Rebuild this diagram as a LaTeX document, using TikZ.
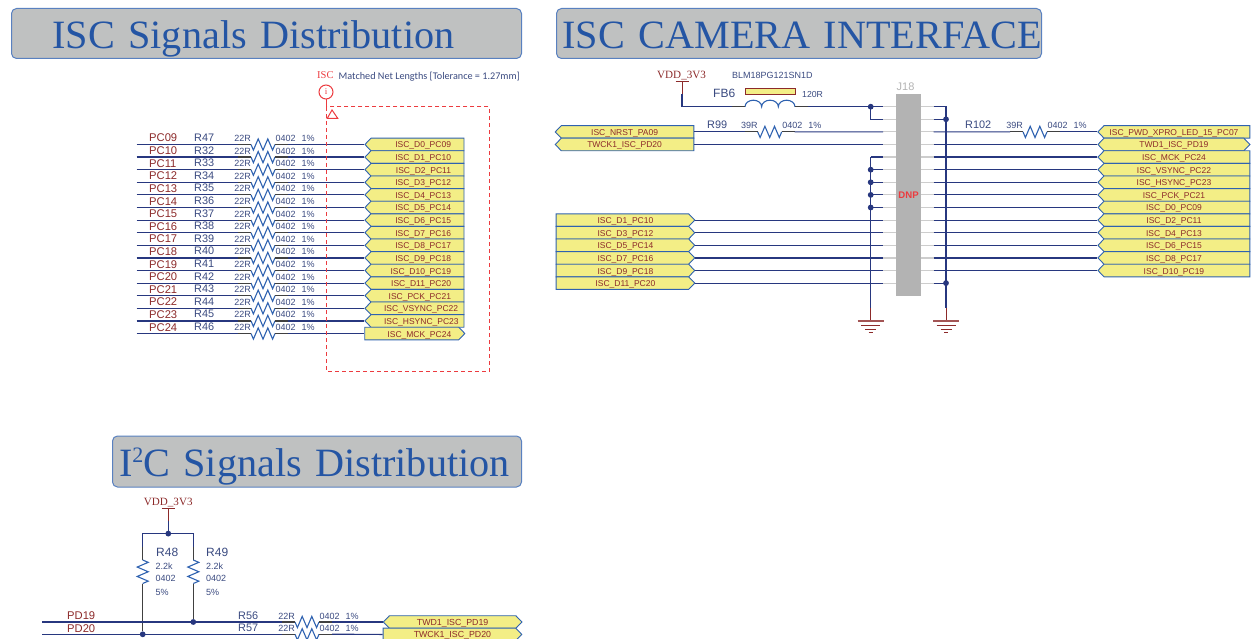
\documentclass[tikz,border=0pt]{standalone}
\usepackage{fontspec}
\setmainfont{Liberation Sans}
\newfontfamily\serifface{Liberation Serif}
\newfontfamily\noteface{Carlito}
\usetikzlibrary{positioning}
\usetikzlibrary{shapes.symbols}

\definecolor{wireblue}{HTML}{27377F}
\definecolor{tagblue}{HTML}{2F62B0}
\definecolor{tagyellow}{HTML}{F3EE86}
\definecolor{netred}{HTML}{8C2A2A}
\definecolor{textblue}{HTML}{3A4A80}
\definecolor{alertred}{HTML}{EC3B3F}
\definecolor{titleblue}{HTML}{2455A4}
\definecolor{titlegray}{HTML}{BFC1C1}
\definecolor{pingray}{HTML}{CDCDCD}
\definecolor{bodygray}{HTML}{B3B3B3}

\tikzset{
  wire/.style={draw=wireblue, line width=1.2pt},
  stub/.style={draw=black!75, line width=1.2pt},
  pwr/.style={draw=netred, line width=1pt},
  zig/.style={draw=tagblue, line width=1.1pt, line join=miter},
  lab/.style={inner sep=0pt, anchor=base west, text=textblue, font=\fontsize{9}{9}\selectfont},
  labend/.style={lab, anchor=base east},
  refdes/.style={lab, font=\fontsize{12}{12}\selectfont},
  pinname/.style={lab, text=netred, font=\fontsize{11.2}{11}\selectfont},
  powername/.style={lab, text=netred, font=\fontsize{11.1}{10}\serifface},
  dot/.style={circle, fill=wireblue, inner sep=0pt, minimum size=5.8pt},
  tagbase/.style={signal, draw=tagblue, fill=tagyellow, line width=0.9pt,
    signal pointer angle=92, inner ysep=0pt, text=netred, text height=7.5pt, text depth=0.5pt,
    font=\fontsize{8.5}{8.5}\selectfont, minimum height=12.6pt},
  tagin/.style={tagbase, signal to=west, inner xsep=13pt, text width=67pt, align=right},
  tagout/.style={tagbase, signal to=east, inner xsep=7.5pt, text width=79pt, align=right},
  tagwest/.style={tagbase, signal to=west, minimum width=#1, execute at begin node=\hspace*{-6pt}},
  tageast/.style={tagbase, signal to=east, minimum width=#1, execute at begin node=\hspace*{6pt}},
  tagboth/.style={tagbase, signal to=west and east, minimum width=#1},
  titlebox/.style={rounded corners=5pt, draw=tagblue!80!white, fill=titlegray, line width=1pt,
    anchor=north west, align=left, minimum height=50pt, inner ysep=0pt, text=titleblue,
    text height=29.5pt, text depth=0pt, font=\fontsize{40.2}{41}\serifface},
  gndsym/.pic={
    \draw[pwr] (0,0) -- (0,13);
    \draw[pwr, line width=1.5pt, draw=netred!80] (-13,13) -- (13,13);
    \draw[pwr] (-9.5,17) -- (9.5,17);
    \draw[pwr] (-5.5,21) -- (5.5,21);
    \draw[pwr] (-2,24.5) -- (2,24.5);
  },
  vddsym/.pic={
    \draw[pwr] (-6.5,0) -- (6.5,0);
    \draw[pwr] (0,0) -- (0,12);
  },
}

% resistor lying on a wire: id, left x, y, x of name, name, value
\newcommand{\hres}[6]{
  \coordinate (ra#1) at (#2,#3);
  \coordinate[right=24pt of ra#1] (rb#1);
  \coordinate[left=13pt of ra#1] (sa#1);
  \coordinate[right=13pt of rb#1] (sb#1);
  \draw[zig] (ra#1) -- ++(2.4,5.6) -- ++(4.8,-11.2) -- ++(4.8,11.2) -- ++(4.8,-11.2) -- ++(4.8,11.2) -- (rb#1);
  \draw[stub] (sa#1) -- (ra#1);
  \draw[stub] (rb#1) -- (sb#1);
  \node[lab, font=\fontsize{10.9}{11}\selectfont] (rname#1) at (#4,#3-3) {#5};
  \node[labend] (rval#1) at (#2,#3-3) {#6};
  \node[lab] (rcase#1) at (#2+24.5,#3-3) {0402};
  \node[lab] (rtol#1) at (#2+50.5,#3-3) {1\%};
}

\begin{document}
\begin{tikzpicture}[x=1pt,y=-1pt]

  \useasboundingbox (0,0) rectangle (1252,639);

  % titles
  \node[titlebox, inner xsep=41pt, text width=428pt] (titleisc) at (11,8) {\mbox{ISC Signals Distribution}};
  \node[titlebox, inner xsep=6pt, text width=473pt] (titlecam) at (556,8) {\mbox{ISC CAMERA INTERFACE}};
  \node[titlebox, inner xsep=6.5pt, text width=396pt, minimum height=51pt] (titleitc) at (112,435.5)
    {\mbox{I\raisebox{14pt}{\fontsize{22}{22}\selectfont 2}C Signals Distribution}};

  % ISC signals
  \foreach \pin/\res/\net/\kind [count=\i from 0] in {
    PC09/R47/ISC\_D0\_PC09/tagin, PC10/R32/ISC\_D1\_PC10/tagin,
    PC11/R33/ISC\_D2\_PC11/tagin, PC12/R34/ISC\_D3\_PC12/tagin,
    PC13/R35/ISC\_D4\_PC13/tagin, PC14/R36/ISC\_D5\_PC14/tagin,
    PC15/R37/ISC\_D6\_PC15/tagin, PC16/R38/ISC\_D7\_PC16/tagin,
    PC17/R39/ISC\_D8\_PC17/tagin, PC18/R40/ISC\_D9\_PC18/tagin,
    PC19/R41/ISC\_D10\_PC19/tagin, PC20/R42/ISC\_D11\_PC20/tagin,
    PC21/R43/ISC\_PCK\_PC21/tagin, PC22/R44/ISC\_VSYNC\_PC22/tagin,
    PC23/R45/ISC\_HSYNC\_PC23/tagin, PC24/R46/ISC\_MCK\_PC24/tagout} {
    \pgfmathsetmacro{\y}{144.5+12.6*\i}
    \coordinate (isc\i) at (136.5,\y);
    \node[\kind, anchor=west] (tag\i) at (364.3,\y) {\net};
    \hres{s\i}{251}{\y}{194}{\res}{22R}
    \node[pinname] (pin\i) at (149,\y-2.5) {\pin};
    \draw[wire] (isc\i) -- (sas\i);
    \draw[wire] (sbs\i) -- (tag\i.west);
  }

  % matched length note
  \node[powername, text=alertred, font=\fontsize{10.5}{10}\serifface] (netisc) at (317,79) {ISC};
  \node[lab, font=\fontsize{10.2}{9}\noteface] (note) at (338.5,80) {Matched Net Lengths [Tolerance = 1.27mm]};
  \node[circle, draw=alertred, line width=1pt, inner sep=0pt, minimum size=14pt, text=alertred,
    font=\fontsize{9}{9}\serifface] (info) at (326,92) {i};
  \coordinate (boxa) at (326,107);
  \coordinate (boxb) at (489.7,371);
  \draw[alertred, line width=1pt] (info) -- (boxa);
  \draw[alertred, line width=1pt, dash pattern=on 4pt off 3pt] (boxa) rectangle (boxb);
  \draw[alertred, line width=1pt] (332,110) -- (337.7,118.3) -- (327.3,118.3) -- cycle;

  % J18
  \node[fill=bodygray, inner sep=0pt, minimum width=25.3pt, minimum height=202pt, anchor=north west,
    text=alertred, font=\bfseries\fontsize{9.6}{10}\selectfont] (conn) at (895.7,94) {DNP};
  \node[lab, text=bodygray, font=\fontsize{11}{11}\selectfont, anchor=base] (connref) at (905.5,91) {J18};
  \foreach \i in {0,...,14} {
    \pgfmathsetmacro{\y}{106.7+12.6*\i}
    \coordinate (pl\i) at (883,\y);
    \coordinate (cl\i) at (895.7,\y);
    \coordinate (pr\i) at (933.5,\y);
    \coordinate (cr\i) at (921,\y);
    \coordinate (vl\i) at (870.7,\y);
    \coordinate (vr\i) at (946,\y);
    \draw[pingray, line width=1.2pt] (pl\i) -- (cl\i);
    \draw[pingray, line width=1.2pt] (cr\i) -- (pr\i);
  }

  % supply and ferrite bead
  \pic at (682,81.7) {vddsym};
  \coordinate (vddtop) at (682,93.7);
  \node[powername] (vddcam) at (657,78.5) {VDD\_3V3};
  \coordinate (fba) at (745,106.7);
  \coordinate (fbb) at (795,106.7);
  \coordinate[left=13pt of fba] (fbsa);
  \coordinate[right=13pt of fbb] (fbsb);
  \draw[tagblue, line width=1.1pt] (fba)
    arc[start angle=180, end angle=0, x radius=8.33pt, y radius=6.5pt]
    arc[start angle=180, end angle=0, x radius=8.33pt, y radius=6.5pt]
    arc[start angle=180, end angle=0, x radius=8.33pt, y radius=6.5pt];
  \draw[stub] (fbsa) -- (fba);
  \draw[stub] (fbb) -- (fbsb);
  \draw[wire] (vddtop) |- (fbsa);
  \draw[wire] (fbsb) -- (pl0);
  \draw[wire] (vl0) |- (pl1);
  \draw[wire] (pr0) -| (vr1);
  \draw[wire] (pr1) -- (vr1);
  \node[dot] (jl0) at (vl0) {};
  \node[dot] (jr1) at (vr1) {};
  \node[draw=netred, fill=tagyellow, line width=1pt, inner sep=0pt, minimum width=50pt, minimum height=6pt,
    anchor=north west] (fbbody) at (745,88) {};
  \node[refdes] (fbref) at (713,98) {FB6};
  \node[lab, font=\fontsize{9}{9}\selectfont] (fbpart) at (732,78.5) {BLM18PG121SN1D};
  \node[lab, font=\fontsize{8.7}{9}\selectfont] (fbval) at (802,97.5) {120R};

  % left tags on J18
  \node[tagwest=138.6pt, anchor=east] (camrst) at (694.3,131.9) {ISC\_NRST\_PA09};
  \node[tagwest=138.6pt, anchor=east] (camtwck) at (694.3,144.5) {TWCK1\_ISC\_PD20};
  \hres{r99}{757.7}{131.9}{707}{R99}{39R}
  \draw[wire] (camrst.east) -- (sar99);
  \draw[wire] (sbr99) -- (pl2);
  \draw[wire] (camtwck.east) -- (pl3);
  \foreach \net [count=\i from 9] in {ISC\_D1\_PC10, ISC\_D3\_PC12, ISC\_D5\_PC14,
    ISC\_D7\_PC16, ISC\_D9\_PC18, ISC\_D11\_PC20} {
    \pgfmathsetmacro{\y}{106.7+12.6*\i}
    \node[tageast=138.6pt, anchor=west] (caml\i) at (555.7,\y) {\net};
    \draw[wire] (caml\i.east) -- (pl\i);
  }
  \foreach \i in {4,...,8} {
    \draw[wire] (vl\i) -- (pl\i);
  }
  \foreach \i in {5,...,8} {
    \node[dot] (jl\i) at (vl\i) {};
  }

  % right tags on J18
  \node[tagwest=152pt, anchor=west] (campwd) at (1097.3,131.9) {ISC\_PWD\_XPRO\_LED\_15\_PC07};
  \node[tagboth=152pt, anchor=west] (camtwd) at (1097.3,144.5) {TWD1\_ISC\_PD19};
  \hres{r102}{1023}{131.9}{965}{R102}{39R}
  \draw[wire] (pr2) -- (sar102);
  \draw[wire] (sbr102) -- (campwd.west);
  \draw[wire] (pr3) -- (camtwd.west);
  \foreach \net [count=\i from 4] in {ISC\_MCK\_PC24, ISC\_VSYNC\_PC22, ISC\_HSYNC\_PC23, ISC\_PCK\_PC21,
    ISC\_D0\_PC09, ISC\_D2\_PC11, ISC\_D4\_PC13, ISC\_D6\_PC15, ISC\_D8\_PC17, ISC\_D10\_PC19} {
    \pgfmathsetmacro{\y}{106.7+12.6*\i}
    \node[tagwest=152pt, anchor=west] (camr\i) at (1097.3,\y) {\net};
    \draw[wire] (pr\i) -- (camr\i.west);
  }
  \draw[wire] (pr14) -- (vr14);
  \node[dot] (jr14) at (vr14) {};

  % grounds
  \coordinate (gndl) at (870.7,308);
  \coordinate (gndr) at (946,308);
  \draw[wire] (vl4) -- (gndl);
  \draw[wire] (vr1) -- (gndr);
  \pic at (gndl) {gndsym};
  \pic at (gndr) {gndsym};

  % I2C signals
  \pic at (168.3,508.7) {vddsym};
  \node[powername] (vdditc) at (143.7,505.5) {VDD\_3V3};
  \coordinate (vddbot) at (168.3,520.7);
  \coordinate (busl) at (142.7,533.6);
  \coordinate (busr) at (193.3,533.6);
  \node[dot] (jbus) at (168.3,533.6) {};
  \draw[wire] (vddbot) -- (jbus);
  \coordinate (rla) at (142.7,560);
  \coordinate (rlb) at (142.7,583.5);
  \coordinate (rra) at (193.3,560);
  \coordinate (rrb) at (193.3,583.5);
  \coordinate (lines) at (142.7,547);
  \coordinate (rines) at (193.3,547);
  \node[dot] (jpdb) at (142.7,634.3) {};
  \node[dot] (jpda) at (193.3,622) {};
  \draw[wire] (lines) |- (busr) -- (rines);
  \draw[stub] (lines) -- (rla);
  \draw[stub] (rines) -- (rra);
  \draw[stub] (rlb) -- (jpdb);
  \draw[stub] (rrb) -- (jpda);
  \draw[zig] (rla) -- ++(5.5,2.35) -- ++(-11,4.7) -- ++(11,4.7) -- ++(-11,4.7) -- ++(11,4.7) -- (rlb);
  \draw[zig] (rra) -- ++(5.5,2.35) -- ++(-11,4.7) -- ++(11,4.7) -- ++(-11,4.7) -- ++(11,4.7) -- (rrb);
  \node[refdes] (refra) at (156,556) {R48};
  \node[refdes] (refrb) at (206,556) {R49};
  \node[lab] (valra) at (155.5,569) {2.2k};
  \node[lab] (caseRa) at (155.5,581.5) {0402};
  \node[lab] (tolra) at (155.5,595) {5\%};
  \node[lab] (valrb) at (206,569) {2.2k};
  \node[lab] (caseRb) at (206,581.5) {0402};
  \node[lab] (tolrb) at (206,595) {5\%};

  \coordinate (pda) at (42.3,622);
  \coordinate (pdb) at (42.3,634.3);
  \node[pinname] (pdaname) at (67,619.5) {PD19};
  \node[pinname] (pdbname) at (67,632) {PD20};
  \node[tagboth=138.6pt, anchor=west, font=\fontsize{8.8}{8.8}\selectfont] (itctwd) at (382.7,622) {TWD1\_ISC\_PD19};
  \node[tageast=138.6pt, anchor=west, font=\fontsize{8.8}{8.8}\selectfont] (itctwck) at (382.7,634.4) {TWCK1\_ISC\_PD20};
  \hres{r56}{295}{622}{238}{R56}{22R}
  \hres{r57}{295}{634.3}{238}{R57}{22R}
  \draw[wire] (pda) -- (sar56);
  \draw[wire] (pdb) -- (sar57);
  \draw[wire] (sbr56) -- (itctwd.west);
  \draw[wire] (sbr57) -- (itctwck.west);

\end{tikzpicture}
\end{document}
